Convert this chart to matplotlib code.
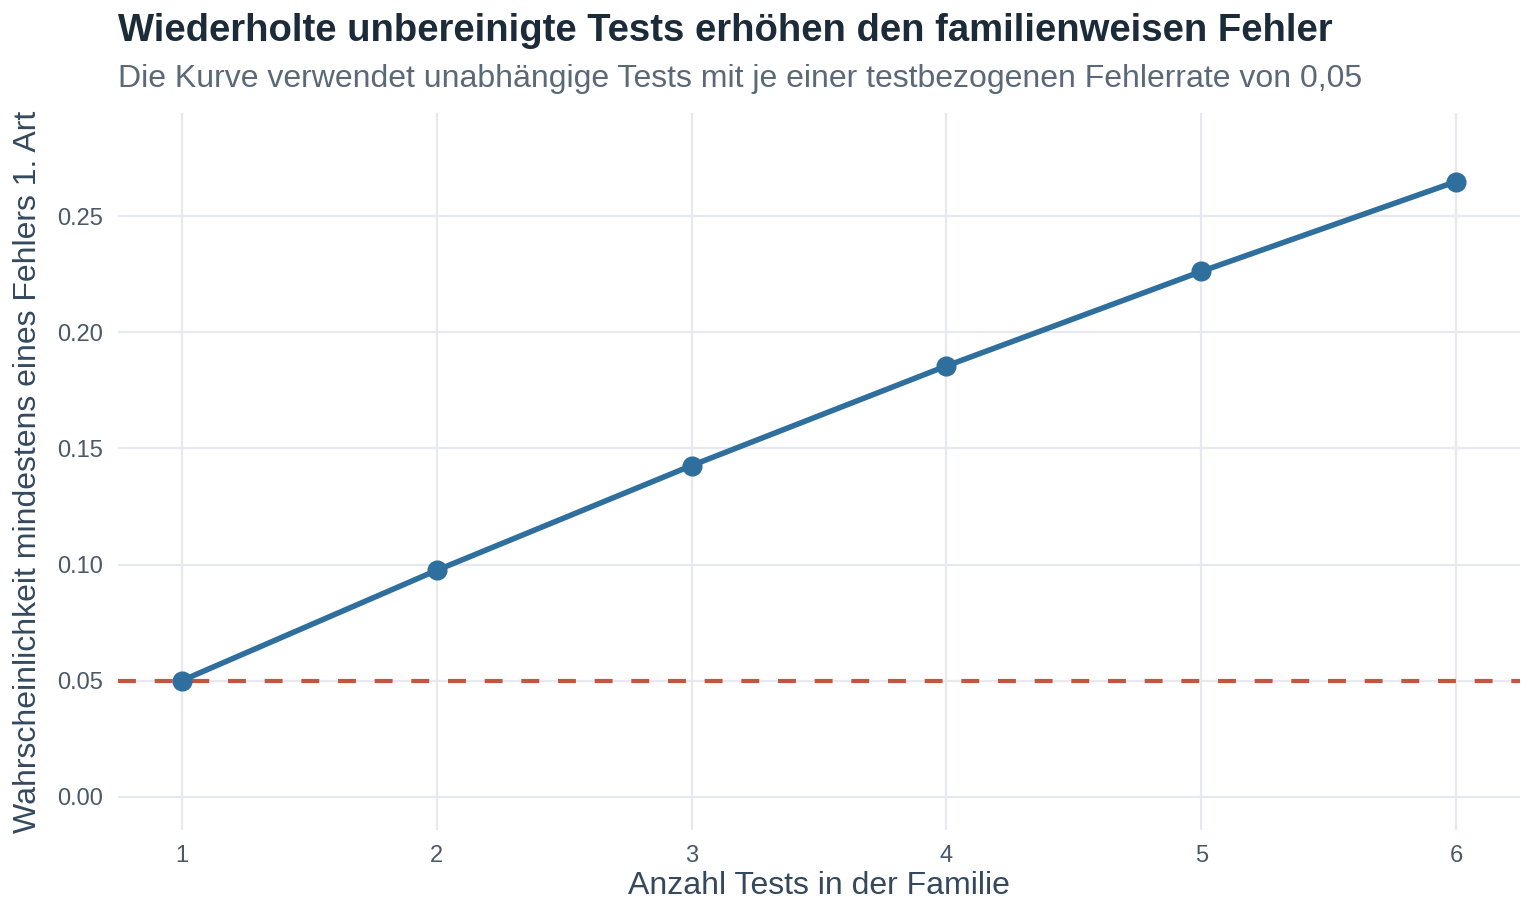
import matplotlib
matplotlib.use('Agg')
import matplotlib.pyplot as plt

plt.rcParams['font.family'] = ['Liberation Sans', 'DejaVu Sans']

tests = [1, 2, 3, 4, 5, 6]
fwer = [0.05, 0.0975, 0.1426, 0.1855, 0.2262, 0.2649]
alpha = 0.05
yticks = [0.00, 0.05, 0.10, 0.15, 0.20, 0.25]

fig = plt.figure(figsize=(15.36, 9.21), dpi=100)
ax = fig.add_axes([118/1536, 1-830/921, (1520-118)/1536, (830-113)/921])

ax.axhline(alpha, color='#c0573e', lw=3, ls=(0, (4.3, 4.5)), zorder=2)
ax.plot(tests, fwer, color='#2e6f9e', lw=4, marker='o', ms=13.5, zorder=3)

ax.set_xlim(0.75, 6.25)
ax.set_ylim(-0.0143, 0.2944)
ax.set_xticks(tests)
ax.set_yticks(yticks)
ax.set_yticklabels([f'{v:.2f}' for v in yticks])
ax.grid(True, color='#e6eaef', lw=1.6)
ax.set_axisbelow(True)
for s in ax.spines.values():
    s.set_visible(False)
ax.tick_params(length=0, labelsize=17, colors='#4a5868', pad=11)

fig.text(0.0185, (1-830/921 + 1-113/921)/2, 'Wahrscheinlichkeit mindestens eines Fehlers 1. Art',
         rotation=90, ha='center', va='center', fontsize=23, color='#34495e')
fig.text((118+1520)/2/1536, 1-886/921, 'Anzahl Tests in der Familie',
         ha='center', va='center', fontsize=23, color='#34495e')
fig.text(118/1536, 1-31/921, 'Wiederholte unbereinigte Tests erhöhen den familienweisen Fehler',
         ha='left', va='center', fontsize=27.5, fontweight='bold', color='#1c2b39')
fig.text(118/1536, 1-79/921, 'Die Kurve verwendet unabhängige Tests mit je einer testbezogenen Fehlerrate von 0,05',
         ha='left', va='center', fontsize=23, color='#5b6878')

fig.savefig('out.png', dpi=100)
